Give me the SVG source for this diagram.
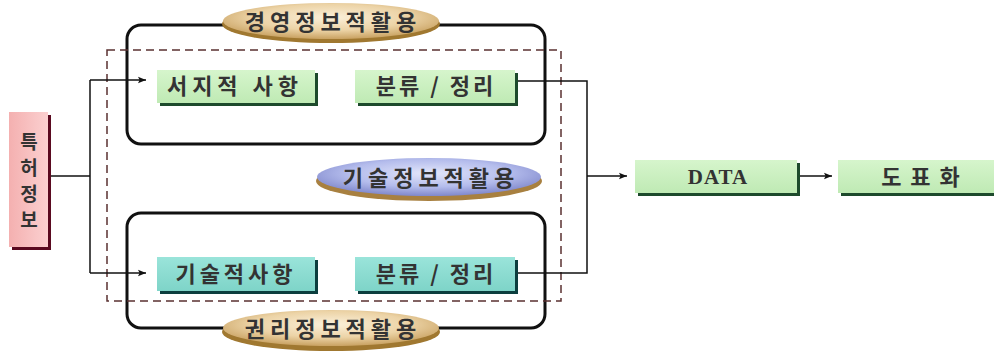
<svg xmlns="http://www.w3.org/2000/svg" width="994" height="353" viewBox="0 0 994 353">
<defs>
<style>
.frame{fill:none;stroke:#111;stroke-width:3}
.dash{fill:none;stroke:#5a3030;stroke-width:1.5;stroke-dasharray:8 5}
.conn{fill:none;stroke:#111;stroke-width:1.5}
.t{font-family:"Noto Sans CJK KR","Noto Sans",sans-serif;font-weight:bold;font-size:22px;fill:#333;text-anchor:middle}
.green{fill:url(#gGreen)}
.teal{fill:url(#gTeal)}
.gsh{fill:#1d4a2c}
.tsh{fill:#0c3e3e}
</style>
<linearGradient id="gGreen" x1="0" y1="0" x2="0" y2="1">
<stop offset="0" stop-color="#d6f5cc"/><stop offset="1" stop-color="#bfeab4"/>
</linearGradient>
<linearGradient id="gTeal" x1="0" y1="0" x2="0" y2="1">
<stop offset="0" stop-color="#9ae4da"/><stop offset="1" stop-color="#7ed4c8"/>
</linearGradient>
<linearGradient id="gPink" x1="0" y1="0" x2="1" y2="0">
<stop offset="0" stop-color="#f4b0b0"/><stop offset="1" stop-color="#fbd0d0"/>
</linearGradient>
<radialGradient id="gTan" cx="0.5" cy="0.4" r="0.6">
<stop offset="0" stop-color="#fbf0da"/><stop offset="0.6" stop-color="#ecd3a6"/><stop offset="1" stop-color="#c9a262"/>
</radialGradient>
<radialGradient id="gBlue" cx="0.5" cy="0.4" r="0.6">
<stop offset="0" stop-color="#e2e6fa"/><stop offset="0.6" stop-color="#b4bcec"/><stop offset="1" stop-color="#8088cc"/>
</radialGradient>
<marker id="arr" viewBox="0 0 10 10" refX="10" refY="5" markerWidth="12" markerHeight="8" markerUnits="userSpaceOnUse" orient="auto">
<path d="M0,1 L10,5 L0,9 L2,5 Z" fill="#111"/>
</marker>
</defs>
<rect width="994" height="353" fill="#fff"/>

<g id="frame-management">
<rect class="frame" x="127" y="25" width="418" height="119" rx="14"/>
</g>
<g id="frame-rights">
<rect class="frame" x="127" y="213" width="418" height="115" rx="14"/>
</g>
<g id="dashed-area">
<rect class="dash" x="107" y="50" width="454" height="251"/>
</g>

<g id="connectors">
<polyline class="conn" points="50,176 90,176"/>
<polyline class="conn" points="90,80 90,273"/>
<polyline class="conn" points="90,80 146,80" marker-end="url(#arr)"/>
<polyline class="conn" points="90,273 146,273" marker-end="url(#arr)"/>
<polyline class="conn" points="515,81 587,81 587,273 515,273"/>
<polyline class="conn" points="587,176 627,176" marker-end="url(#arr)"/>
<polyline class="conn" points="800,176 832,176" marker-end="url(#arr)"/>
</g>

<g id="patent-info">
<rect x="12" y="115" width="39" height="135" fill="#5a0a20"/>
<rect x="9" y="112" width="39" height="135" fill="url(#gPink)"/>
<text class="t" x="29" y="149" font-size="19" style="font-size:19px">특</text>
<text class="t" x="29" y="175" style="font-size:19px">허</text>
<text class="t" x="29" y="201" style="font-size:19px">정</text>
<text class="t" x="29" y="227" style="font-size:19px">보</text>
</g>

<g id="ellipse-management">
<ellipse cx="331" cy="24" rx="109" ry="19" fill="#a07830"/>
<ellipse cx="331" cy="21" rx="108" ry="18" fill="url(#gTan)"/>
<text class="t" x="333" y="30" letter-spacing="5">경영정보적활용</text>
</g>

<g id="ellipse-tech">
<ellipse cx="429" cy="181" rx="113" ry="20" fill="#a88040"/>
<ellipse cx="429" cy="177" rx="112" ry="19" fill="url(#gBlue)"/>
<text class="t" x="431" y="186" letter-spacing="5">기술정보적활용</text>
</g>

<g id="ellipse-rights">
<ellipse cx="331" cy="332" rx="109" ry="19" fill="#a07830"/>
<ellipse cx="331" cy="328" rx="108" ry="18" fill="url(#gTan)"/>
<text class="t" x="333" y="337" letter-spacing="5">권리정보적활용</text>
</g>

<g id="biblio">
<rect class="gsh" x="160" y="73" width="158" height="33"/>
<rect class="green" x="157" y="70" width="158" height="33"/>
<text class="t" x="235" y="94" letter-spacing="5">서지적  사항</text>
</g>

<g id="classify-top">
<rect class="gsh" x="358" y="73" width="160" height="33"/>
<rect class="green" x="355" y="70" width="160" height="33"/>
<text class="t" x="436" y="94" letter-spacing="3">분류 / 정리</text>
</g>

<g id="tech-items">
<rect class="tsh" x="160" y="260" width="158" height="34"/>
<rect class="teal" x="157" y="257" width="158" height="34"/>
<text class="t" x="236" y="282" letter-spacing="4">기술적사항</text>
</g>

<g id="classify-bottom">
<rect class="tsh" x="358" y="260" width="160" height="34"/>
<rect class="teal" x="355" y="257" width="160" height="34"/>
<text class="t" x="436" y="282" letter-spacing="3">분류 / 정리</text>
</g>

<g id="data">
<rect class="gsh" x="638" y="163" width="162" height="33"/>
<rect class="green" x="635" y="160" width="162" height="33"/>
<text x="718" y="184" font-family="Liberation Serif, serif" font-weight="bold" font-size="21" fill="#333" text-anchor="middle" letter-spacing="1">DATA</text>
</g>

<g id="chart">
<rect class="gsh" x="841" y="163" width="153" height="33"/>
<rect class="green" x="838" y="160" width="156" height="33"/>
<text class="t" x="925" y="185" letter-spacing="9">도표화</text>
</g>
</svg>
